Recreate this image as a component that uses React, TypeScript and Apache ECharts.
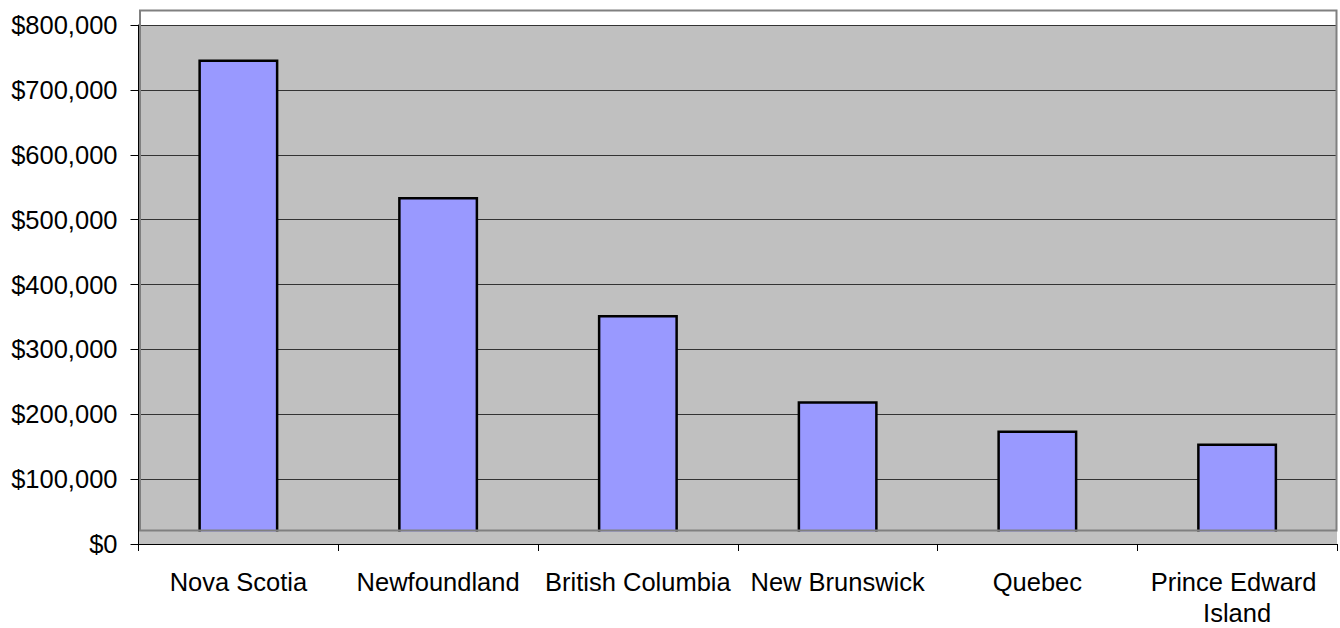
import React, { useEffect, useRef } from "react";
import * as echarts from "echarts";

const categories = ["Nova Scotia", "Newfoundland", "British Columbia", "New Brunswick", "Quebec", "Prince Edward Island"];
const values = [747000, 535000, 353000, 220000, 175000, 155000];
const yMin = 0;
const yMax = 800000;
const yStep = 100000;

const FONT = "'Liberation Sans', Arial, sans-serif";

function fmtMoney(v: number): string {
  return "$" + Math.round(v).toLocaleString("en-US");
}

export default function App() {
  const ref = useRef<HTMLDivElement>(null);
  useEffect(() => {
    if (!ref.current) return;
    const chart = echarts.init(ref.current, undefined, { renderer: "svg" });
    chart.setOption({
      animation: false,
      grid: {
        left: 138.5,
        right: 3,
        top: 25,
        bottom: 82.3,
        show: true,
        backgroundColor: "#C0C0C0",
        borderWidth: 0,
      },
      xAxis: {
        type: "category",
        data: categories,
        z: 12,
        axisLine: { show: true, lineStyle: { color: "#000", width: 1 } },
        axisTick: { show: true, length: 7, lineStyle: { color: "#000", width: 1 } },
        axisLabel: {
          color: "#000",
          fontSize: 25.5,
          fontFamily: FONT,
          margin: 22,
          lineHeight: 31,
          width: 199,
          overflow: "break",
          interval: 0,
        },
        splitLine: { show: false },
      },
      yAxis: {
        type: "value",
        min: yMin,
        max: yMax,
        interval: yStep,
        axisLine: { show: true, lineStyle: { color: "#000", width: 1 } },
        axisTick: { show: true, length: 8, lineStyle: { color: "#000", width: 1 } },
        axisLabel: {
          color: "#000",
          fontSize: 25.5,
          fontFamily: FONT,
          margin: 21,
          formatter: (v: number) => fmtMoney(v),
        },
        splitLine: { show: true, lineStyle: { color: "#333", width: 1.2 } },
      },
      series: [
        {
          type: "bar",
          data: values,
          barWidth: 80,
          itemStyle: { color: "#9999FF", borderColor: "#000", borderWidth: 2.5 },
        },
      ],
      graphic: [
        {
          type: "rect",
          z: 10,
          shape: { x: 141, y: 531.5, width: 1196, height: 13.5 },
          style: { fill: "#C0C0C0" },
          silent: true,
        },
        {
          type: "rect",
          z: 11,
          shape: { x: 140, y: 10.5, width: 1196.5, height: 520 },
          style: { fill: "none", stroke: "#808080", lineWidth: 2 },
          silent: true,
        },
      ],
    });
    return () => chart.dispose();
  }, []);
  return (
    <div
      ref={ref}
      style={{ position: "fixed", left: 0, top: 0, width: 1340, height: 628, background: "#fff" }}
    />
  );
}
